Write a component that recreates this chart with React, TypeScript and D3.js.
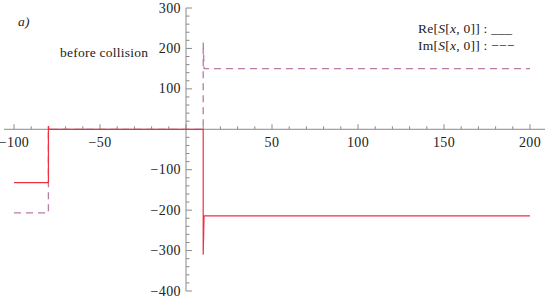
import React from "react";
import * as d3 from "d3";

const reSeries: [number, number][] = [
  [-100, -132], [-80, -132], [-80, 8], [-79.6, 0], [10, 0], [10, -310], [10.5, -214], [200, -214],
];
const imSeries: [number, number][] = [
  [-100, -207], [-80, -207], [-80, 0], [10, 0], [10, 215], [10.5, 150], [200, 150],
];
const xMajor = [-100, -50, 50, 100, 150, 200];
const yMajor = [300, 200, 100, -100, -200, -300, -400];
const legendRe = "___";
const legendIm = "\u2212\u2212\u2212";
const panelLabel = "a)";
const noteLabel = "before collision";

const W = 545, H = 300;
const x = d3.scaleLinear().domain([-100, 200]).range([14, 530]);
const y = d3.scaleLinear().domain([300, -400]).range([8, 291]);

const fmt = (v: number) => (v < 0 ? "\u2212" + Math.abs(v) : String(v));
const FONT = "Liberation Serif, DejaVu Serif, serif";

export default function App() {
  const line = d3.line<[number, number]>().x(d => x(d[0])).y(d => y(d[1]));
  const xMinor = d3.range(-100, 201, 10).filter(v => v % 50 !== 0);
  const yMinor = d3.range(-400, 301, 20).filter(v => v % 100 !== 0);
  const x0 = x(0), y0 = y(0);
  const axisColor = "#8a8a8a";
  const ts = { fontFamily: FONT, fontSize: "14px", letterSpacing: "0.4px" };
  const ls = { fontFamily: FONT, fontSize: "13.5px", letterSpacing: "0.25px" };
  return (
    <svg width={W} height={H} style={{ position: "absolute", left: 0, top: 0, background: "#fff" }}>
      <line x1={4} x2={W} y1={y0} y2={y0} stroke={axisColor} strokeWidth={1} />
      <line x1={x0} x2={x0} y1={y(300)} y2={y(-400)} stroke={axisColor} strokeWidth={1} />
      {[0, ...xMajor].map(v => (
        <line key={"xM" + v} x1={x(v)} x2={x(v)} y1={y0} y2={y0 - 5} stroke={axisColor} />
      ))}
      {xMinor.map(v => (
        <line key={"xm" + v} x1={x(v)} x2={x(v)} y1={y0} y2={y0 - 3} stroke={axisColor} />
      ))}
      {yMajor.map(v => (
        <line key={"yM" + v} x1={x0} x2={x0 + 6} y1={y(v)} y2={y(v)} stroke={axisColor} />
      ))}
      {yMinor.map(v => (
        <line key={"ym" + v} x1={x0} x2={x0 + 3.5} y1={y(v)} y2={y(v)} stroke={axisColor} />
      ))}
      {xMajor.map(v => (
        <text key={"xl" + v} x={x(v)} y={y0 + 18} style={ts} textAnchor="middle" fill="#222">{fmt(v)}</text>
      ))}
      {yMajor.map(v => (
        <text key={"yl" + v} x={x0 - 5} y={y(v) + 4.5} style={ts} textAnchor="end" fill="#222">{fmt(v)}</text>
      ))}
      <path d={line(imSeries) || ""} fill="none" stroke="#b97ba6" strokeWidth={1.3} strokeDasharray="7,5" />
      <path d={line(reSeries) || ""} fill="none" stroke="#ee3040" strokeWidth={1.2} />
      <text x={18} y={26} style={{ ...ls, fontStyle: "italic" }} fill="#222">{panelLabel}</text>
      <text x={60} y={57} style={ls} fill="#222">{noteLabel}</text>
      <text x={418} y={33} style={ls} fill="#222">
        Re[<tspan fontStyle="italic">S</tspan>[<tspan fontStyle="italic">x</tspan>, 0]] : {legendRe}
      </text>
      <text x={418} y={50} style={ls} fill="#222">
        Im[<tspan fontStyle="italic">S</tspan>[<tspan fontStyle="italic">x</tspan>, 0]] : {legendIm}
      </text>
    </svg>
  );
}
